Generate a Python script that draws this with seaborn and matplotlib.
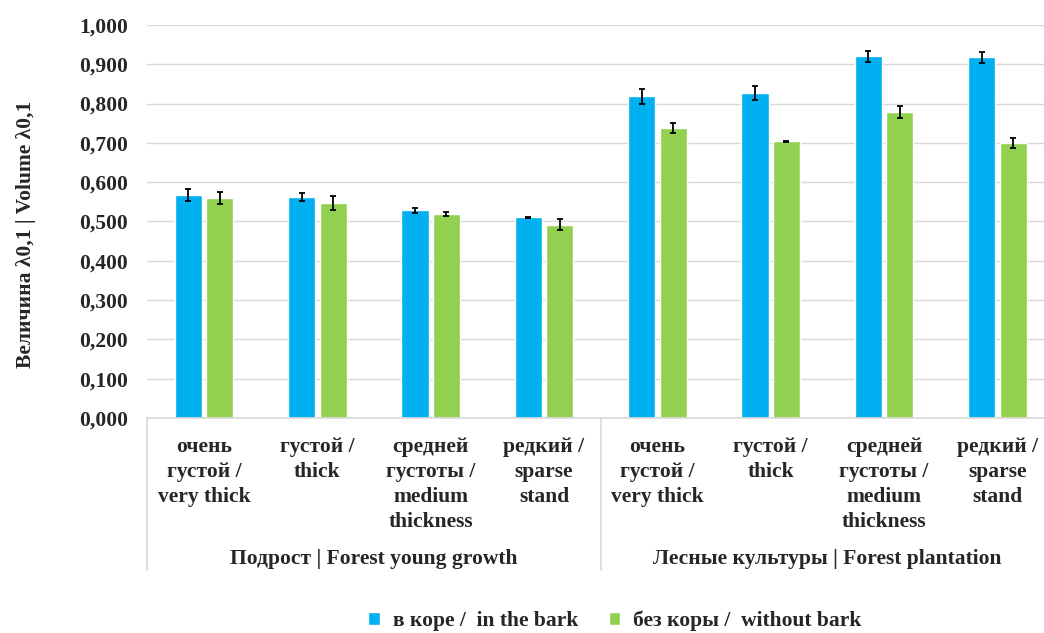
import numpy as np
import pandas as pd
import matplotlib
matplotlib.use("Agg")
import matplotlib.pyplot as plt
from matplotlib.lines import Line2D
import seaborn as sns

# ── Данные ─────────────────────────────────────────────
cat_labels = ["очень\nгустой /\nvery thick", "густой /\nthick",
              "средней\nгустоты /\nmedium\nthickness", "редкий /\nsparse\nstand"]
groups = ["Подрост | Forest young growth", "Лесные культуры | Forest plantation"]
series = ["в коре /  in the bark", "без коры /  without bark"]

bark     = [0.567, 0.562, 0.528, 0.511, 0.818, 0.827, 0.920, 0.918]
no_bark  = [0.560, 0.547, 0.519, 0.492, 0.738, 0.704, 0.779, 0.700]
bark_err    = [0.015, 0.010, 0.006, 0.001, 0.019, 0.018, 0.014, 0.014]
no_bark_err = [0.015, 0.017, 0.006, 0.015, 0.012, 0.001, 0.016, 0.013]

BLUE, GREEN, GRID = "#00B0F0", "#92D050", "#D9D9D9"
FS = 15.5

keys = [f"{g}-{i}" for g in range(len(groups)) for i in range(len(cat_labels))]
df = pd.DataFrame({
    "cat": keys * 2,
    "value": bark + no_bark,
    "series": [series[0]] * len(keys) + [series[1]] * len(keys),
})

sns.set_theme(style="white")
plt.rcParams["font.family"] = ["Liberation Serif", "DejaVu Serif"]
plt.rcParams["font.weight"] = "bold"
plt.rcParams["font.size"] = FS

fig = plt.figure(figsize=(10.44, 6.33), dpi=100)
ax = fig.add_axes([0.1412, 0.3397, 0.8684, 0.6209])

sns.barplot(data=df, x="cat", y="value", hue="series", order=keys,
            palette=[BLUE, GREEN], width=0.556, gap=0.14, errorbar=None,
            saturation=1, ax=ax)

# усы погрешностей
for cont, errs in zip(ax.containers, [bark_err, no_bark_err]):
    xs = [p.get_x() + p.get_width() / 2 for p in cont]
    ys = [p.get_height() for p in cont]
    ax.errorbar(xs, ys, yerr=errs, fmt="none", ecolor="black",
                elinewidth=1.3, capsize=2.5, capthick=1.3, zorder=5)

ax.set_ylim(0, 1.0)
ax.set_xlim(-0.5, len(keys) - 0.5)
ax.set_yticks(np.arange(0, 1.01, 0.1))
ax.set_yticklabels([f"{v:.3f}".replace(".", ",") for v in np.arange(0, 1.01, 0.1)],
                   fontsize=FS, fontweight="bold")
ax.tick_params(axis="y", length=0, pad=14)
ax.set_xticks(range(len(keys)))
ax.set_xticklabels(cat_labels * 2, fontsize=FS, fontweight="bold", linespacing=1.32)
ax.tick_params(axis="x", length=0, pad=14)
ax.set_xlabel("")
ax.yaxis.grid(True, color=GRID, lw=1)
ax.set_axisbelow(True)
for s in ["left", "right", "top"]:
    ax.spines[s].set_visible(False)
ax.spines["bottom"].set_color(GRID)

ax.set_ylabel("Величина λ0,1 | Volume λ0,1", fontsize=FS, fontweight="bold")
ax.yaxis.set_label_coords(-0.123, 0.468)

# подписи групп и разделители
tr = ax.get_xaxis_transform()
for gi, g in enumerate(groups):
    ax.text(gi * 4 + 1.5, -0.358, g, transform=tr, ha="center", va="center",
            fontsize=FS, fontweight="bold")
for xs in [-0.5, 3.5]:
    ax.add_line(Line2D([xs, xs], [0, -0.387], transform=tr, color=GRID,
                       lw=1.2, clip_on=False))

handles, labels = ax.get_legend_handles_labels()
ax.get_legend().remove()
fig.legend(handles, labels, loc="center", bbox_to_anchor=(615 / 1044, 0.019),
           ncol=2, frameon=False, handlelength=0.55, handleheight=0.55,
           handletextpad=0.6, columnspacing=1.4,
           prop={"size": FS, "weight": "bold"})

fig.savefig("out.png", dpi=100)
